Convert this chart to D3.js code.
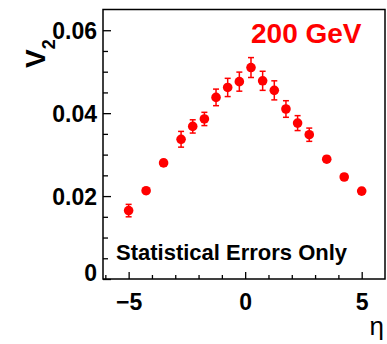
<!DOCTYPE html>
<html>
<head>
<meta charset="utf-8">
<script src="https://cdn.jsdelivr.net/npm/d3@7.9.0/dist/d3.min.js"></script>
<style>
  body { margin: 0; background: #fff; }
  svg { display: block; font-family: "Liberation Sans", Arial, sans-serif; }
  .tick text { font-weight: bold; }
</style>
</head>
<body>
<svg id="chart" width="387" height="344"></svg>
<script>
// pseudorapidity bins and v2 values
const eta = [-5.0, -4.25, -3.5, -2.75, -2.25, -1.75, -1.25, -0.75, -0.25,
             0.25, 0.75, 1.25, 1.75, 2.25, 2.75, 3.5, 4.25, 5.0];
const v2 = [0.0165, 0.0213, 0.0280, 0.0337, 0.0368, 0.0386, 0.0438, 0.0462, 0.0476,
            0.0510, 0.0478, 0.0455, 0.0410, 0.0376, 0.0348, 0.0289, 0.0246, 0.0212];
const v2err = [0.0015, 0.0007, 0.0007, 0.0019, 0.0016, 0.0016, 0.0020, 0.0022, 0.0023,
               0.0024, 0.0023, 0.0023, 0.0020, 0.0018, 0.0016, 0.0007, 0.0007, 0.0007];
const xMajor = [-5, 0, 5];
const xMinor = [-6, -4, -3, -2, -1, 1, 2, 3, 4];
const yMajor = [0, 0.02, 0.04, 0.06];
const yMinor = [0.005, 0.01, 0.015, 0.025, 0.03, 0.035, 0.045, 0.05, 0.055];

const svg = d3.select('#chart');
const mLeft = 103, mRight = 385, mTop = 9.5, mBottom = 279;

const x = d3.scaleLinear().domain([-6.1, 6.0]).range([mLeft, mRight]);
const y = d3.scaleLinear().domain([0, 0.065]).range([mBottom, mTop]);

// minor ticks
svg.append('g')
  .attr('transform', `translate(0,${mBottom})`)
  .call(d3.axisBottom(x).tickValues(xMinor).tickSize(-4).tickFormat(''))
  .call(g => g.select('.domain').remove());
svg.append('g')
  .attr('transform', `translate(${mLeft},0)`)
  .call(d3.axisLeft(y).tickValues(yMinor).tickSize(-5).tickFormat(''))
  .call(g => g.select('.domain').remove());

// major ticks with labels
let xAxis = svg.append('g')
  .attr('transform', `translate(0,${mBottom})`)
  .call(d3.axisBottom(x).tickValues(xMajor).tickSize(-7).tickPadding(15).tickFormat(d3.format('d')));
xAxis.select('.domain').remove();
xAxis.selectAll('text').attr('font-size', 23).attr('dy', '0.71em');

let yAxis = svg.append('g')
  .attr('transform', `translate(${mLeft},0)`)
  .call(d3.axisLeft(y).tickValues(yMajor).tickSize(-8).tickPadding(6)
    .tickFormat(d => d === 0 ? '0' : d3.format('.2f')(d)));
yAxis.select('.domain').remove();
yAxis.selectAll('text')
  .attr('font-size', 23)
  .attr('dy', d => d === 0 ? '0.05em' : '0.35em');

svg.selectAll('.tick line').attr('stroke', '#000').attr('stroke-width', 1.3);

// frame
svg.append('rect')
  .attr('x', mLeft).attr('y', mTop)
  .attr('width', mRight - mLeft).attr('height', mBottom - mTop)
  .attr('fill', 'none').attr('stroke', '#000').attr('stroke-width', 1.5);

// error bars
const pts = eta.map((e, i) => ({ e, v: v2[i], err: v2err[i] }));
const eb = svg.append('g').attr('stroke', '#ff0000').attr('stroke-width', 1.5);
pts.forEach(p => {
  eb.append('line')
    .attr('x1', x(p.e)).attr('x2', x(p.e))
    .attr('y1', y(p.v - p.err)).attr('y2', y(p.v + p.err));
  [p.v - p.err, p.v + p.err].forEach(yy => {
    eb.append('line')
      .attr('x1', x(p.e) - 3).attr('x2', x(p.e) + 3)
      .attr('y1', y(yy)).attr('y2', y(yy));
  });
});

svg.append('g').selectAll('circle')
  .data(pts)
  .join('circle')
  .attr('cx', d => x(d.e))
  .attr('cy', d => y(d.v))
  .attr('r', 4.8)
  .attr('fill', '#ff0000');

// texts
svg.append('text')
  .attr('x', 251).attr('y', 43)
  .attr('fill', '#ff0000').attr('font-size', 28).attr('font-weight', 'bold')
  .text('200 GeV');

svg.append('text')
  .attr('x', 116).attr('y', 260)
  .attr('font-size', 22).attr('font-weight', 'bold')
  .text('Statistical Errors Only');

let yl = svg.append('text')
  .attr('transform', 'translate(45,68) rotate(-90)')
  .attr('font-weight', 'bold');
yl.append('tspan').attr('font-size', 28).text('V');
yl.append('tspan').attr('font-size', 18).attr('dy', 10).text('2');

svg.append('text')
  .attr('x', 384).attr('y', 335)
  .attr('text-anchor', 'end')
  .attr('font-size', 26)
  .text('η');
</script>
</body>
</html>
